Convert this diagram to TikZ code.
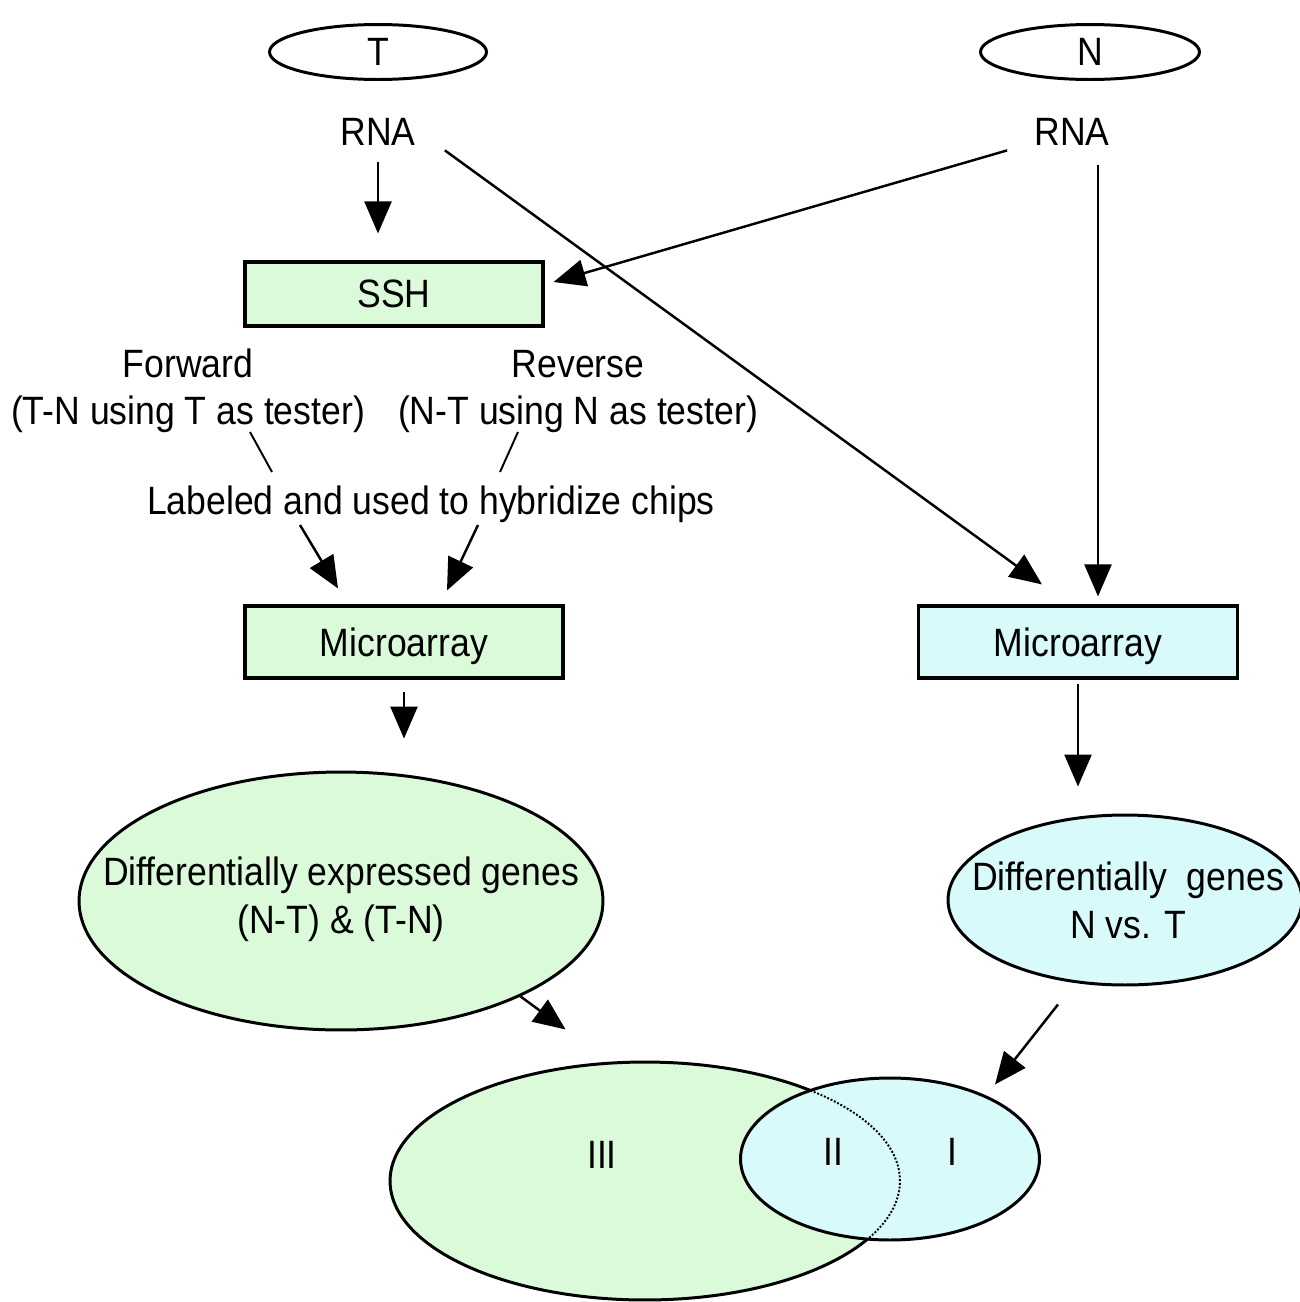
\documentclass[tikz,border=0pt]{standalone}
\usepackage{fontspec}
\setmainfont{Liberation Sans}[FakeStretch=0.9]
\usetikzlibrary{shapes.geometric,arrows.meta,calc}
\definecolor{lgreen}{RGB}{218,250,218}
\definecolor{lcyan}{RGB}{216,250,250}

\begin{document}
\begin{tikzpicture}[x=0.02cm, y=-0.02cm,
  font=\fontsize{22.5}{27.3}\selectfont,
  box/.style={draw, line width=1.8pt, inner sep=0pt, text depth=0pt},
  oval/.style={ellipse, draw, line width=1.7pt, inner sep=0pt},
  arr/.style={-{Triangle[length=0.64cm,width=0.54cm]}, line width=1.4pt},
  txt/.style={inner sep=0pt, anchor=base}]
\useasboundingbox (0,0) rectangle (1299,1302);
% samples
\node[oval, minimum width=4.34cm, minimum height=1.1cm] (T) at (378,52) {T};
\node[oval, minimum width=4.38cm, minimum height=1.1cm] (N) at (1090,52) {N};
\node[txt] (rnaT) at (378,145) {RNA};
\node[txt] (rnaN) at (1072,145) {RNA};
% SSH
\node[box, fill=lgreen, minimum width=5.96cm, minimum height=1.28cm] (ssh) at (394,294) {SSH};
\node[txt] (fwd) at (188,377) {Forward};
\node[txt] (fwdTN) at (188,424) {(T-N using T as tester)};
\node[txt] (rev) at (578,377) {Reverse};
\node[txt] (revNT) at (578,424) {(N-T using N as tester)};
\node[txt] (lab) at (431,514) {Labeled and used to hybridize chips};
% microarrays
\node[box, fill=lgreen, minimum width=6.36cm, minimum height=1.44cm] (micL) at (404,642) {Microarray};
\node[box, fill=lcyan, minimum width=6.38cm, minimum height=1.44cm] (micR) at (1078,642) {Microarray};
% gene sets
\node[oval, fill=lgreen, minimum width=10.48cm, minimum height=5.16cm] (geneL) at (341,901) {};
\node[align=center, inner sep=0pt] (geneLtxt) at (341,899) {Differentially expressed genes\\(N-T) \& (T-N)};
\node[oval, fill=lcyan, minimum width=7.08cm, minimum height=3.4cm] (geneR) at (1125,900) {};
\node[align=center, inner sep=0pt] (geneRtxt) at (1128,900) {Differentially\ \ genes\\N vs. T};
% venn
\node[oval, fill=lgreen, minimum width=10.2cm, minimum height=4.76cm] (vennL) at (645,1181) {};
\node[oval, fill=lcyan, minimum width=5.98cm, minimum height=3.24cm] (vennR) at (890,1159) {};
\begin{scope}
\clip (vennR.center) ellipse [x radius=2.99cm, y radius=1.62cm];
\draw[densely dotted, line width=1.1pt] (vennL.center) ellipse [x radius=5.1cm, y radius=2.38cm];
\end{scope}
\node (III) at (602,1155) {III};
\node (II) at (833,1152) {II};
\node (I) at (952,1152) {I};
% arrows
\draw[arr, shorten <=0.34cm, shorten >=0.54cm] (rnaT.south) -- (rnaT.south |- ssh.north);
\draw[arr] ($(rnaN.west)+(-27,19)$) -- ($(ssh.east)+(9,-12)$);
\draw[arr] ($(rnaT.east)+(29,19)$) -- ($(micR.north)+(-36,-20)$);
\draw[arr] ($(rnaN.south)+(26,20)$) -- ($(micR.north)+(20,-8)$);
\draw[line width=1.1pt] ($(fwdTN.base)+(62,8)$) -- ($(lab.base)+(-159,-42)$);
\draw[line width=1.1pt] ($(revNT.base)+(-60,8)$) -- ($(lab.base)+(69,-42)$);
\draw[arr] ($(lab.base)+(-131,11)$) -- ($(micL.north)+(-66,-16)$);
\draw[arr] ($(lab.base)+(47,11)$) -- ($(micL.north)+(43,-14)$);
\draw[arr, shorten <=0.24cm, shorten >=0.64cm] (micL.south) -- (micL.south |- geneL.north);
\draw[arr, shorten <=0.08cm, shorten >=0.54cm] (micR.south) -- (micR.south |- geneR.north);
\draw[arr] (geneL.-28) -- ++(45,33);
\draw[arr] ($(geneR.south)+(-67,18)$) -- ++(-63,80);
\end{tikzpicture}
\end{document}
